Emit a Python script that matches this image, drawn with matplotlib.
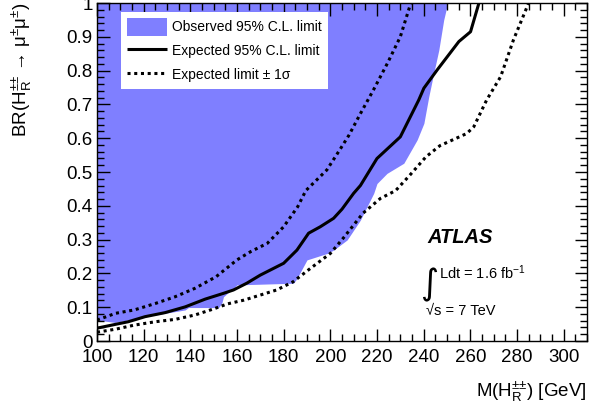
import matplotlib
matplotlib.use("Agg")
import matplotlib.pyplot as plt
from matplotlib.ticker import MultipleLocator, FormatStrFormatter

plt.rcParams['font.family'] = ['Liberation Sans', 'DejaVu Sans']
plt.rcParams['mathtext.default'] = 'regular'

# observed 95% CL limit (boundary of the excluded region)
obs_mass = [100, 107.7, 120.6, 137.8, 139.2, 152.1, 153.5, 154.2, 160, 184.2, 185.7,
            190, 198.6, 201.4, 207.2, 210, 212.9, 215.7, 218.6, 220, 224.3, 231.5,
            237.2, 240.1, 242.2, 244.3, 246.5, 248.6, 250.1, 250.4]
obs_br = [0.062, 0.055, 0.072, 0.092, 0.099, 0.099, 0.112, 0.131, 0.166, 0.171, 0.185,
          0.240, 0.259, 0.269, 0.299, 0.328, 0.358, 0.397, 0.437, 0.466, 0.496, 0.526,
          0.595, 0.644, 0.723, 0.792, 0.861, 0.950, 0.994, 1.0]

# expected limit
exp_mass = [100, 107.7, 113.4, 120.6, 129.2, 137.8, 146.4, 154.2, 158.5, 164.2, 170,
            180, 185.7, 190.7, 195.7, 201.4, 205, 210, 212.9, 220, 230, 237.9, 240.1,
            245.8, 255.1, 260.1, 263.7]
exp_br = [0.038, 0.049, 0.057, 0.072, 0.084, 0.101, 0.124, 0.141, 0.151, 0.171, 0.195,
          0.230, 0.269, 0.319, 0.338, 0.363, 0.390, 0.437, 0.460, 0.540, 0.604, 0.713,
          0.748, 0.802, 0.886, 0.915, 1.0]

# expected -1 sigma (left dotted)
lo_mass = [100, 108, 116, 125, 133.5, 142, 151, 160, 166, 173, 180, 186, 189.5, 198.5,
           204, 208, 213, 218.5, 224.5, 230, 234.5]
lo_br = [0.062, 0.082, 0.092, 0.111, 0.131, 0.156, 0.19, 0.24, 0.265, 0.289, 0.338,
         0.397, 0.445, 0.506, 0.565, 0.609, 0.674, 0.743, 0.822, 0.900, 1.0]

# expected +1 sigma (right dotted)
hi_mass = [100, 108, 116, 125, 133.5, 142, 150, 156, 163, 170, 177, 184, 191.5, 200,
           205.5, 214, 221.5, 228, 234, 241, 247, 258.5, 261.5, 267, 273, 278.5, 285]
hi_br = [0.026, 0.035, 0.047, 0.057, 0.064, 0.077, 0.095, 0.11, 0.121, 0.136, 0.151,
         0.175, 0.215, 0.259, 0.304, 0.378, 0.422, 0.445, 0.49, 0.545, 0.578, 0.614,
         0.634, 0.713, 0.782, 0.891, 1.0]

fig = plt.figure(figsize=(6.05, 4.12), dpi=100)
ax = fig.add_axes([0.1603, 0.1723, 0.8099, 0.8204])

ax.fill_between(obs_mass, obs_br, 1, color='#7f7fff', lw=0, label='Observed 95% C.L. limit')
ax.plot(exp_mass, exp_br, color='black', lw=2.2, solid_capstyle='butt',
        label='Expected 95% C.L. limit')
ax.plot(lo_mass, lo_br, color='black', lw=2.2, linestyle=(0, (1, 1.2)),
        label='Expected limit ± 1σ')
ax.plot(hi_mass, hi_br, color='black', lw=2.2, linestyle=(0, (1, 1.2)))

ax.set_xlim(100, 310)
ax.set_ylim(0, 1)
ax.xaxis.set_major_locator(MultipleLocator(20))
ax.xaxis.set_minor_locator(MultipleLocator(5))
ax.yaxis.set_major_locator(MultipleLocator(0.1))
ax.yaxis.set_minor_locator(MultipleLocator(0.02))
ax.yaxis.set_major_formatter(FormatStrFormatter('%g'))
ax.tick_params(which='both', direction='in', top=True, right=True, width=1,
               labelsize=13.5)
ax.tick_params(which='major', length=9)
ax.tick_params(which='minor', length=5)
ax.tick_params(axis='x', pad=6)
ax.tick_params(axis='y', pad=3)
for s in ax.spines.values():
    s.set_linewidth(1)

leg = ax.legend(loc='upper left', bbox_to_anchor=(0.049, 0.973), fontsize=10,
                frameon=True, fancybox=False, framealpha=1, edgecolor='none',
                handlelength=2.9, handleheight=1.6, handletextpad=0.4,
                labelspacing=0.45, borderpad=0.4, borderaxespad=0)

ax.text(241.6, 0.29, 'ATLAS', fontsize=14.5, fontweight='bold', fontstyle='italic',
        va='baseline')
ax.text(238.5, 0.166, '∫', fontsize=25, family='DejaVu Sans', va='center')
ax.text(246.4, 0.183, 'Ldt = 1.6 fb$^{-1}$', fontsize=10.5, va='baseline')
ax.text(240.8, 0.077, '√s = 7 TeV', fontsize=10.5, va='baseline')

fig.text(22 / 605, 410 / 412, 'BR(H$_R^{±±}$ → μ$^{±}$μ$^{±}$)', rotation=90,
         ha='center', va='top', fontsize=13.5)
fig.text(587 / 605, 15 / 412, 'M(H$_R^{±±}$) [GeV]', ha='right', va='baseline',
         fontsize=13.5)

fig.savefig('out.png', dpi=100)
